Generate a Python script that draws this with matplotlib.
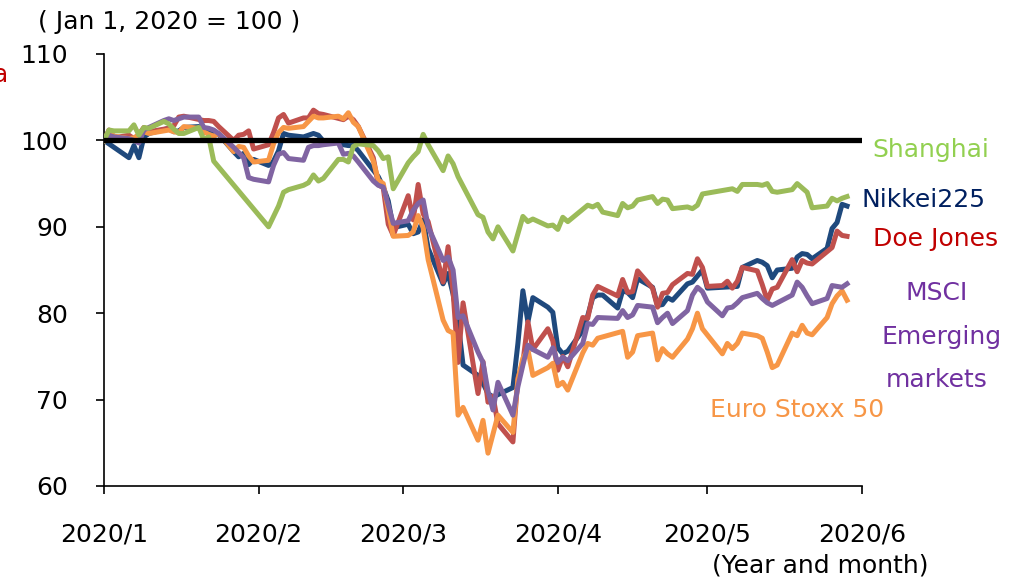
import pandas as pd
import matplotlib
matplotlib.use("Agg")
import matplotlib.pyplot as plt

plt.rcParams['font.family'] = ['DejaVu Sans']

# ---- data (Jan 1, 2020 = 100) ----
nikkei_dates = ["01-01", "01-06", "01-07", "01-08", "01-09", "01-10", "01-14", "01-15", "01-16", "01-17",
                "01-20", "01-21", "01-22", "01-23", "01-24", "01-27", "01-28", "01-29", "01-30", "01-31",
                "02-03", "02-04", "02-05", "02-06", "02-07", "02-10", "02-12", "02-13", "02-14", "02-17",
                "02-18", "02-19", "02-20", "02-21", "02-25", "02-26", "02-27", "02-28", "03-02", "03-03",
                "03-04", "03-05", "03-06", "03-09", "03-10", "03-11", "03-12", "03-13", "03-16", "03-17",
                "03-18", "03-19", "03-23", "03-24", "03-25", "03-26", "03-27", "03-30", "03-31", "04-01",
                "04-02", "04-03", "04-06", "04-07", "04-08", "04-09", "04-10", "04-13", "04-14", "04-15",
                "04-16", "04-17", "04-20", "04-21", "04-22", "04-23", "04-24", "04-27", "04-28", "04-30",
                "05-01", "05-07", "05-08", "05-11", "05-12", "05-13", "05-14", "05-15", "05-18", "05-19",
                "05-20", "05-21", "05-22", "05-25", "05-26", "05-27", "05-28", "05-29"]
nikkei_vals = [100, 98.0, 99.4, 98.0, 100.4, 100.8, 101.4, 101.0, 101.1, 101.5,
               101.6, 100.9, 101.3, 100.6, 100.7, 98.7, 98.1, 98.5, 97.2, 97.8,
               97.1, 97.6, 98.8, 100.8, 100.6, 100.4, 100.8, 100.6, 99.9, 99.8,
               99.5, 99.4, 99.4, 98.8, 95.8, 94.6, 93.0, 89.9, 90.3, 89.2,
               89.4, 90.8, 87.5, 83.4, 84.6, 82.2, 79.0, 74.0, 72.8, 71.9,
               70.7, 70.3, 71.4, 76.5, 82.6, 79.0, 81.8, 80.7, 80.1, 76.0,
               75.3, 75.6, 78.0, 79.7, 81.8, 82.1, 82.1, 80.6, 82.6, 82.4,
               81.8, 84.0, 83.0, 80.9, 81.0, 81.8, 81.5, 83.4, 83.6, 85.0,
               82.9, 83.1, 85.3, 86.1, 85.9, 85.5, 84.1, 85.0, 85.2, 86.5,
               86.9, 86.8, 86.3, 87.5, 89.8, 90.5, 92.6, 92.4]

dow_dates = ["01-01", "01-02", "01-03", "01-06", "01-07", "01-08", "01-09", "01-10", "01-13", "01-14",
             "01-15", "01-16", "01-17", "01-21", "01-22", "01-23", "01-24", "01-27", "01-28", "01-29",
             "01-30", "01-31", "02-03", "02-04", "02-05", "02-06", "02-07", "02-10", "02-11", "02-12",
             "02-13", "02-14", "02-18", "02-19", "02-20", "02-21", "02-24", "02-25", "02-26", "02-27",
             "02-28", "03-02", "03-03", "03-04", "03-05", "03-06", "03-09", "03-10", "03-11", "03-12",
             "03-13", "03-16", "03-17", "03-18", "03-19", "03-20", "03-23", "03-24", "03-25", "03-26",
             "03-27", "03-30", "03-31", "04-01", "04-02", "04-03", "04-06", "04-07", "04-08", "04-09",
             "04-13", "04-14", "04-15", "04-16", "04-17", "04-20", "04-21", "04-22", "04-23", "04-24",
             "04-27", "04-28", "04-29", "04-30", "05-01", "05-04", "05-05", "05-06", "05-07", "05-08",
             "05-11", "05-12", "05-13", "05-14", "05-15", "05-18", "05-19", "05-20", "05-21", "05-22",
             "05-26", "05-27", "05-28", "05-29"]
dow_vals = [100, 101.2, 100.3, 100.6, 100.2, 100.7, 101.5, 101.0, 101.3, 101.4,
            101.7, 102.7, 102.8, 102.3, 102.3, 102.2, 101.6, 100.0, 100.6, 100.7,
            101.1, 99.0, 99.5, 100.9, 102.6, 103.0, 102.0, 102.6, 102.6, 103.5,
            103.1, 103.0, 102.4, 102.8, 102.4, 101.6, 98.0, 94.9, 94.5, 90.3,
            89.0, 93.6, 90.8, 94.9, 91.5, 90.6, 83.6, 87.7, 82.5, 74.3,
            81.2, 70.7, 74.4, 69.7, 70.4, 67.2, 65.1, 72.5, 74.3, 79.0,
            75.8, 78.2, 76.8, 73.4, 75.0, 73.8, 79.5, 79.4, 82.1, 83.1,
            82.0, 83.9, 82.4, 82.5, 84.9, 82.9, 80.7, 82.3, 82.4, 83.3,
            84.6, 84.5, 86.3, 85.3, 83.1, 83.2, 83.7, 82.9, 83.7, 85.3,
            84.9, 83.3, 81.5, 82.8, 83.0, 86.2, 84.8, 86.1, 85.8, 85.7,
            87.6, 89.5, 89.0, 88.9]

euro_dates = ["01-01", "01-02", "01-03", "01-06", "01-07", "01-08", "01-09", "01-10", "01-13", "01-14",
              "01-15", "01-16", "01-17", "01-20", "01-21", "01-22", "01-23", "01-24", "01-27", "01-28",
              "01-29", "01-30", "01-31", "02-03", "02-04", "02-05", "02-06", "02-07", "02-10", "02-11",
              "02-12", "02-13", "02-14", "02-17", "02-18", "02-19", "02-20", "02-21", "02-24", "02-25",
              "02-26", "02-27", "02-28", "03-02", "03-03", "03-04", "03-05", "03-06", "03-09", "03-10",
              "03-11", "03-12", "03-13", "03-16", "03-17", "03-18", "03-19", "03-20", "03-23", "03-24",
              "03-25", "03-26", "03-27", "03-30", "03-31", "04-01", "04-02", "04-03", "04-06", "04-07",
              "04-08", "04-09", "04-14", "04-15", "04-16", "04-17", "04-20", "04-21", "04-22", "04-23",
              "04-24", "04-27", "04-28", "04-29", "04-30", "05-04", "05-05", "05-06", "05-07", "05-08",
              "05-11", "05-12", "05-13", "05-14", "05-15", "05-18", "05-19", "05-20", "05-21", "05-22",
              "05-25", "05-26", "05-27", "05-28", "05-29"]
euro_vals = [100, 101.0, 100.5, 100.2, 100.3, 100.6, 101.0, 100.8, 101.1, 101.2,
             101.0, 100.9, 101.6, 101.4, 101.0, 100.7, 100.5, 100.8, 98.7, 99.3,
             99.2, 98.2, 97.5, 97.7, 99.6, 100.9, 101.5, 101.4, 101.6, 102.2,
             102.8, 102.6, 102.6, 102.8, 102.5, 103.2, 102.1, 101.6, 97.6, 95.4,
             95.0, 91.9, 88.9, 89.0, 89.4, 91.3, 89.9, 86.2, 79.2, 78.0,
             77.7, 68.2, 69.1, 65.3, 67.6, 63.8, 66.0, 68.2, 66.2, 72.3,
             74.8, 75.8, 72.8, 73.7, 74.2, 71.6, 72.0, 71.1, 75.4, 76.5,
             76.3, 77.1, 77.9, 74.9, 75.5, 77.4, 77.7, 74.6, 75.9, 75.3,
             74.9, 77.0, 78.2, 80.0, 78.2, 75.3, 76.5, 75.9, 76.5, 77.7,
             77.4, 77.1, 75.5, 73.7, 74.0, 77.7, 77.4, 78.6, 77.7, 77.5,
             79.5, 81.1, 82.0, 82.6, 81.5]

msci_dates = ["01-01", "01-02", "01-03", "01-06", "01-07", "01-08", "01-09", "01-10", "01-13", "01-14",
              "01-15", "01-16", "01-17", "01-20", "01-21", "01-22", "01-23", "01-24", "01-27", "01-28",
              "01-29", "01-30", "01-31", "02-03", "02-04", "02-05", "02-06", "02-07", "02-10", "02-11",
              "02-12", "02-13", "02-14", "02-17", "02-18", "02-19", "02-20", "02-21", "02-24", "02-25",
              "02-26", "02-27", "02-28", "03-02", "03-03", "03-04", "03-05", "03-06", "03-09", "03-10",
              "03-11", "03-12", "03-13", "03-16", "03-17", "03-18", "03-19", "03-20", "03-23", "03-24",
              "03-25", "03-26", "03-27", "03-30", "03-31", "04-01", "04-02", "04-03", "04-06", "04-07",
              "04-08", "04-09", "04-13", "04-14", "04-15", "04-16", "04-17", "04-20", "04-21", "04-22",
              "04-23", "04-24", "04-27", "04-28", "04-29", "04-30", "05-01", "05-04", "05-05", "05-06",
              "05-07", "05-08", "05-11", "05-12", "05-13", "05-14", "05-15", "05-18", "05-19", "05-20",
              "05-21", "05-22", "05-25", "05-26", "05-27", "05-28", "05-29"]
msci_vals = [100, 100.6, 100.4, 100.2, 100.0, 99.7, 101.2, 101.5, 102.3, 102.5,
             102.3, 102.5, 102.7, 102.7, 101.5, 101.4, 101.2, 100.8, 99.2, 98.6,
             98.0, 95.7, 95.5, 95.2, 97.1, 98.4, 98.6, 97.9, 97.7, 99.2,
             99.4, 99.4, 99.5, 99.7, 98.4, 98.5, 98.2, 97.5, 95.3, 94.8,
             94.6, 92.5, 90.4, 90.7, 91.9, 92.7, 93.1, 90.0, 86.1, 86.5,
             85.0, 79.5, 79.7, 75.5, 74.3, 71.0, 68.8, 72.0, 68.2, 71.5,
             74.0, 76.3, 75.8, 74.9, 76.0, 74.3, 74.9, 74.5, 76.5, 78.8,
             78.7, 79.5, 79.4, 80.3, 79.5, 79.8, 80.9, 80.7, 78.9, 79.5,
             80.0, 78.8, 80.3, 82.1, 83.0, 82.5, 81.3, 79.7, 80.6, 80.7,
             81.2, 81.8, 82.3, 81.7, 81.2, 80.9, 81.2, 82.1, 83.6, 83.0,
             82.0, 81.1, 81.7, 83.2, 83.1, 83.0, 83.4]

shanghai_dates = ["01-01", "01-02", "01-03", "01-06", "01-07", "01-08", "01-09", "01-10", "01-13", "01-14",
                  "01-15", "01-16", "01-17", "01-20", "01-21", "01-22", "01-23", "02-03", "02-04", "02-05",
                  "02-06", "02-07", "02-10", "02-11", "02-12", "02-13", "02-14", "02-17", "02-18", "02-19",
                  "02-20", "02-21", "02-24", "02-25", "02-26", "02-27", "02-28", "03-02", "03-03", "03-04",
                  "03-05", "03-06", "03-09", "03-10", "03-11", "03-12", "03-13", "03-16", "03-17", "03-18",
                  "03-19", "03-20", "03-23", "03-24", "03-25", "03-26", "03-27", "03-30", "03-31", "04-01",
                  "04-02", "04-03", "04-07", "04-08", "04-09", "04-10", "04-13", "04-14", "04-15", "04-16",
                  "04-17", "04-20", "04-21", "04-22", "04-23", "04-24", "04-27", "04-28", "04-29", "04-30",
                  "05-06", "05-07", "05-08", "05-11", "05-12", "05-13", "05-14", "05-15", "05-18", "05-19",
                  "05-20", "05-21", "05-22", "05-25", "05-26", "05-27", "05-28", "05-29"]
shanghai_vals = [100, 101.2, 101.1, 101.1, 101.8, 100.6, 101.5, 101.4, 102.2, 101.9,
                 101.3, 100.8, 100.8, 101.5, 100.1, 100.4, 97.6, 90.0, 91.2, 92.4,
                 94.0, 94.3, 94.8, 95.1, 96.0, 95.3, 95.6, 97.8, 97.8, 97.5,
                 99.3, 99.6, 99.4, 98.8, 97.9, 98.1, 94.4, 97.4, 98.1, 98.7,
                 100.7, 99.5, 96.5, 98.2, 97.3, 95.8, 94.7, 91.4, 91.1, 89.4,
                 88.6, 90.0, 87.2, 89.2, 91.2, 90.6, 90.9, 90.1, 90.2, 89.7,
                 91.1, 90.6, 92.5, 92.3, 92.6, 91.7, 91.3, 92.7, 92.2, 92.4,
                 93.1, 93.5, 92.7, 93.2, 93.1, 92.1, 92.3, 92.1, 92.5, 93.8,
                 94.4, 94.1, 94.9, 94.9, 94.8, 95.0, 94.1, 94.0, 94.3, 95.0,
                 94.5, 94.0, 92.2, 92.4, 93.3, 93.0, 93.3, 93.5]

month_ticks = ["2020-01-01", "2020-02-01", "2020-03-01", "2020-04-01", "2020-05-01", "2020-06-01"]
month_labels = ["2020/1", "2020/2", "2020/3", "2020/4", "2020/5", "2020/6"]


def to_dates(md):
    return pd.to_datetime(["2020-" + d for d in md])


fig = plt.figure(figsize=(10.15, 5.79), dpi=100)
ax = fig.add_axes([104 / 1015, 1 - 486 / 579, (862 - 104) / 1015, (486 - 54) / 579])

lw = 3.6
ax.plot(to_dates(nikkei_dates), nikkei_vals, color='#1F497D', lw=lw, zorder=2)
ax.plot(to_dates(dow_dates), dow_vals, color='#C0504D', lw=lw, zorder=3)
ax.plot(to_dates(euro_dates), euro_vals, color='#F79646', lw=lw, zorder=4)
ax.plot(to_dates(msci_dates), msci_vals, color='#8064A2', lw=lw, zorder=5)
ax.plot(to_dates(shanghai_dates), shanghai_vals, color='#9BBB59', lw=lw, zorder=6)

# base line 100
ax.axhline(100, color='black', lw=3.8, zorder=7)

ax.set_xlim(pd.Timestamp("2020-01-01"), pd.Timestamp("2020-06-01"))
ax.set_ylim(60, 110)
ax.set_yticks([60, 70, 80, 90, 100, 110])
ax.set_xticks(pd.to_datetime(month_ticks))
ax.set_xticklabels(month_labels)

for s in ['top', 'right']:
    ax.spines[s].set_visible(False)
for s in ['left', 'bottom']:
    ax.spines[s].set_linewidth(1.2)
ax.tick_params(axis='both', direction='out', length=6, width=1.2, labelsize=18)
ax.tick_params(axis='y', pad=20)
ax.tick_params(axis='x', pad=20)

# labels
fs = 18
fig.text(38 / 1015, 1 - 22 / 579, "( Jan 1, 2020 = 100 )", fontsize=fs, ha='left', va='center')
fig.text(8 / 1015, 1 - 75 / 579, "a", fontsize=fs, ha='right', va='center', color='#C00000')
fig.text(928 / 1015, 1 - 566 / 579, "(Year and month)", fontsize=fs, ha='right', va='center')

fig.text(872 / 1015, 1 - 150 / 579, "Shanghai", fontsize=fs, color='#92D050', ha='left', va='center')
fig.text(862 / 1015, 1 - 200 / 579, "Nikkei225", fontsize=fs, color='#002060', ha='left', va='center')
fig.text(873 / 1015, 1 - 239 / 579, "Doe Jones", fontsize=fs, color='#C00000', ha='left', va='center')
fig.text(937 / 1015, 1 - 293 / 579, "MSCI", fontsize=fs, color='#7030A0', ha='center', va='center')
fig.text(942 / 1015, 1 - 337 / 579, "Emerging", fontsize=fs, color='#7030A0', ha='center', va='center')
fig.text(937 / 1015, 1 - 380 / 579, "markets", fontsize=fs, color='#7030A0', ha='center', va='center')
fig.text(710 / 1015, 1 - 410 / 579, "Euro Stoxx 50", fontsize=fs, color='#F79646', ha='left', va='center')

fig.savefig("out.png", dpi=100)
